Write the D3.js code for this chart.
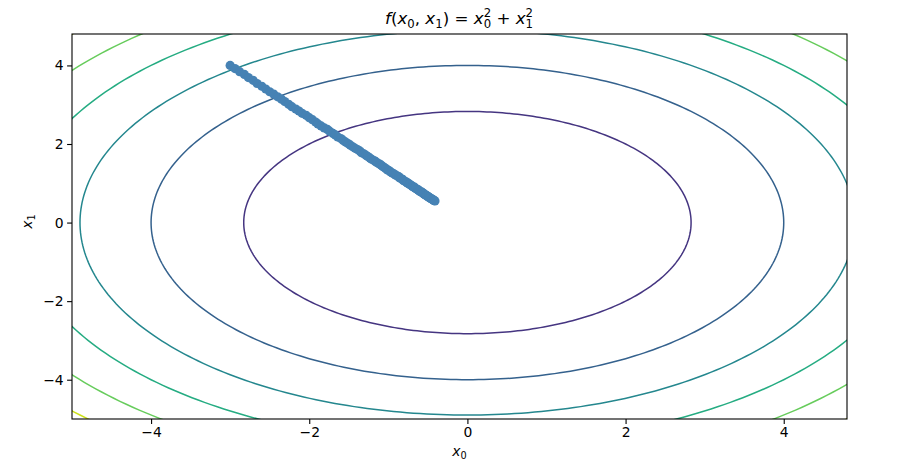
<!DOCTYPE html>
<html><head><meta charset="utf-8">
<script src="https://cdn.jsdelivr.net/npm/d3@7"></script>
<style>body{margin:0;background:#fff}svg{display:block}text{font-family:"DejaVu Sans",sans-serif}</style>
</head><body><svg id="c" width="903" height="468"></svg>
<script>
const levels = [8, 16, 24, 32, 40, 48];
const levelMax = 52;
const xTicks = [-4, -2, 0, 2, 4];
const yTicks = [-4, -2, 0, 2, 4];
const pathX0 = [-3.00,-2.94,-2.88,-2.82,-2.77,-2.71,-2.66,-2.60,-2.55,-2.50,-2.45,-2.40,-2.35,-2.31,-2.26,-2.22,-2.17,-2.13,-2.09,-2.04,-2.00,-1.96,-1.92,-1.89,-1.85,-1.81,-1.77,-1.74,-1.70,-1.67,-1.64,-1.60,-1.57,-1.54,-1.51,-1.48,-1.45,-1.42,-1.39,-1.36,-1.34,-1.31,-1.28,-1.26,-1.23,-1.21,-1.18,-1.16,-1.14,-1.11,-1.09,-1.07,-1.05,-1.03,-1.01,-0.99,-0.97,-0.95,-0.93,-0.91,-0.89,-0.87,-0.86,-0.84,-0.82,-0.81,-0.79,-0.77,-0.76,-0.74,-0.73,-0.71,-0.70,-0.69,-0.67,-0.66,-0.65,-0.63,-0.62,-0.61,-0.60,-0.58,-0.57,-0.56,-0.55,-0.54,-0.53,-0.52,-0.51,-0.50,-0.49,-0.48,-0.47,-0.46,-0.45,-0.44,-0.43,-0.42,-0.41];
const pathX1 = [4.00,3.92,3.84,3.77,3.69,3.62,3.54,3.47,3.40,3.33,3.27,3.20,3.14,3.08,3.01,2.95,2.89,2.84,2.78,2.73,2.67,2.62,2.56,2.51,2.46,2.41,2.37,2.32,2.27,2.23,2.18,2.14,2.09,2.05,2.01,1.97,1.93,1.89,1.86,1.82,1.78,1.75,1.71,1.68,1.64,1.61,1.58,1.55,1.52,1.49,1.46,1.43,1.40,1.37,1.34,1.32,1.29,1.26,1.24,1.21,1.19,1.17,1.14,1.12,1.10,1.07,1.05,1.03,1.01,0.99,0.97,0.95,0.93,0.91,0.90,0.88,0.86,0.84,0.83,0.81,0.79,0.78,0.76,0.75,0.73,0.72,0.70,0.69,0.68,0.66,0.65,0.64,0.62,0.61,0.60,0.59,0.57,0.56,0.55];

const L = 72, R = 847, T = 34, B = 419;
const svg = d3.select("#c");
const x = d3.scaleLinear().domain([-5, 4.8]).range([L, R]);
const y = d3.scaleLinear().domain([-5, 4.8]).range([B, T]);

svg.append("defs").append("clipPath").attr("id","clip")
  .append("rect").attr("x",L).attr("y",T).attr("width",R-L).attr("height",B-T);

const g = svg.append("g").attr("clip-path","url(#clip)");
const angles = d3.range(0, 361, 1).map(d => d * Math.PI / 180);
const line = d3.line();
levels.forEach(lv => {
  const r = Math.sqrt(lv);
  const pts = angles.map(a => [x(r*Math.cos(a)), y(r*Math.sin(a))]);
  g.append("path").attr("d", line(pts)).attr("fill","none")
    .attr("stroke", d3.interpolateViridis(lv/levelMax)).attr("stroke-width",1.5);
});

const pts = pathX0.map((v,i)=>[v,pathX1[i]]);
g.selectAll("circle.p").data(pts).join("circle")
  .attr("cx",d=>x(d[0])).attr("cy",d=>y(d[1])).attr("r",4.6).attr("fill","#4682b4");

// axes
const fmt = d=>d<0?"\u2212"+Math.abs(d):String(d);
const xa = svg.append("g").attr("transform",`translate(0,${B})`)
  .call(d3.axisBottom(x).tickValues(xTicks).tickSize(4.9).tickPadding(3.5).tickFormat(fmt));
const ya = svg.append("g").attr("transform",`translate(${L},0)`)
  .call(d3.axisLeft(y).tickValues(yTicks).tickSize(4.9).tickPadding(3.5).tickFormat(fmt));
[xa,ya].forEach(a=>{a.select(".domain").remove();a.selectAll("text").attr("font-size",13.9).attr("fill","#000").attr("font-family","DejaVu Sans");a.selectAll("line").attr("stroke","#000").attr("stroke-width",1.1);});
svg.append("rect").attr("x",L).attr("y",T).attr("width",R-L).attr("height",B-T)
  .attr("fill","none").attr("stroke","#000").attr("stroke-width",1.1);

// math text builder: parts = [{t, italic, shift(px, + up), small, back}]
function mathText(parent, cx, cy, fs, parts, rotate){
  const grp = parent.append("g");
  const t = grp.append("text").attr("x",0).attr("y",0).attr("font-size",fs).attr("fill","#000");
  let cur = 0, lastW = 0;
  parts.forEach(p=>{
    const ts = t.append("tspan").text(p.t);
    if(p.italic) ts.attr("font-style","italic");
    if(p.small) ts.attr("font-size", fs*0.7);
    const target = -(p.shift||0)*fs;
    if(target!==cur){ ts.attr("dy", target-cur); cur = target; }
    if(p.back) ts.attr("dx", -lastW);
    lastW = ts.node().getComputedTextLength();
  });
  const bb = t.node().getBBox();
  t.attr("x", -bb.width/2 - bb.x);
  grp.attr("transform", `translate(${cx},${cy})` + (rotate?` rotate(${rotate})`:""));
}
const xv = (s)=>[{t:"x",italic:true},{t:s,small:true,shift:-0.22}];
const xsq = (s)=>[{t:"x",italic:true},{t:"2",small:true,shift:0.42},{t:s,small:true,shift:-0.25,back:true}];
mathText(svg, 459, 24, 16.7, [
  {t:"f",italic:true},{t:"("},...xv("0"),{t:", "},...xv("1"),{t:") = "},
  ...xsq("0"),{t:" + "},...xsq("1")]);
mathText(svg, 459, 456, 13.9, xv("0"));
mathText(svg, 32, 222, 13.9, xv("1"), -90);
</script></body></html>
